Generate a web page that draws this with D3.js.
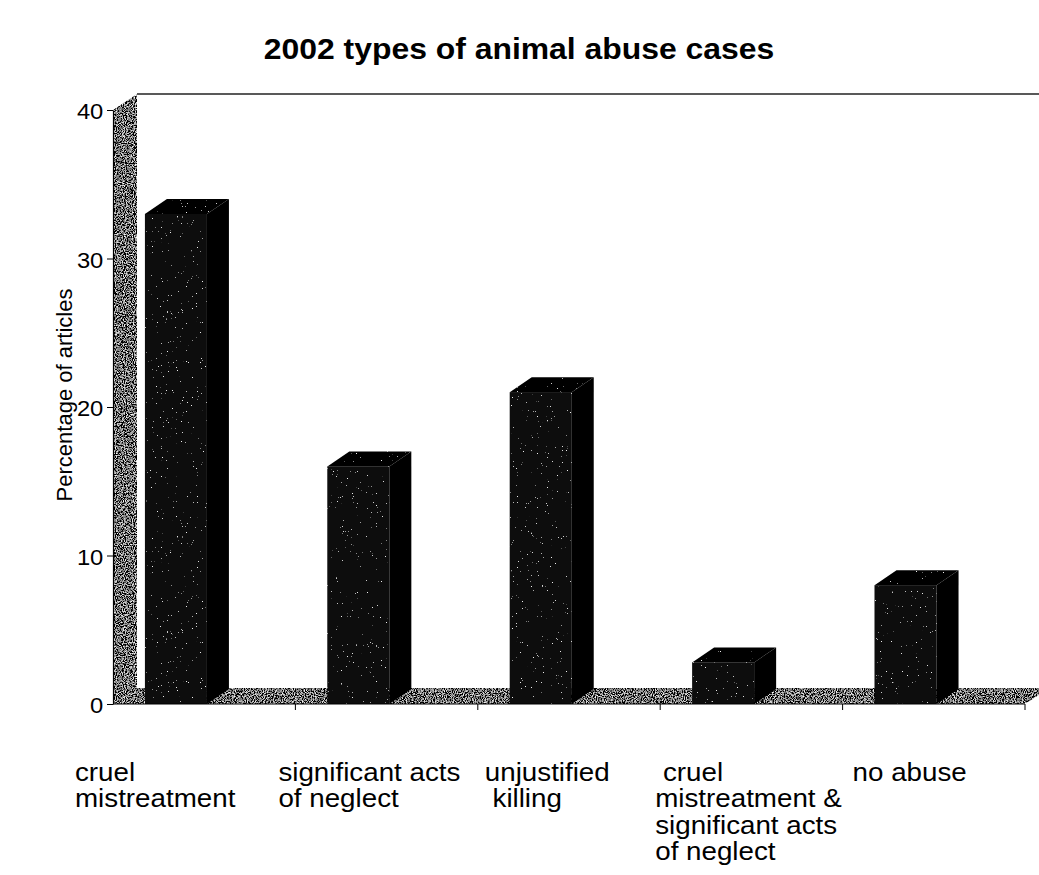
<!DOCTYPE html>
<html>
<head>
<meta charset="utf-8">
<script src="https://cdn.jsdelivr.net/npm/d3@7"></script>
<style>
  body { margin: 0; background: #fff; }
  text { font-family: Arial, "Liberation Sans", sans-serif; fill: #000; }
</style>
</head>
<body>
<div id="chart"></div>
<script>
/* Data */
var categories = ["cruel mistreatment", "significant acts of neglect", "unjustified killing",
                  "cruel mistreatment & significant acts of neglect", "no abuse"];
var labelLines = [["cruel", "mistreatment"], ["significant acts", "of neglect"], ["unjustified", " killing"],
                  [" cruel", "mistreatment &", "significant acts", "of neglect"], ["no abuse"]];
var values = [33, 16, 21, 2.8, 8];
var yTicks = [0, 10, 20, 30, 40];
var title = "2002 types of animal abuse cases";
var yTitle = "Percentage of articles";

/* Layout */
var width = 1039, height = 875;
var plot = {left: 113, right: 1025, top: 110, bottom: 704};
var wall = {dx: 24, dy: -16}, bar = {dx: 22, dy: -15};
var labelShift = [-38, -17, 7, -5, 10];   // label left edge vs band start
var sx = 1.08;                             // the scan is a bit wide

var svg = d3.select("#chart").append("svg").attr("width", width).attr("height", height);

/* texture filters */
var defs = svg.append("defs");
var grain = defs.append("filter").attr("id", "grain")
    .attr("filterUnits", "userSpaceOnUse").attr("x", 0).attr("y", 0)
    .attr("width", width).attr("height", height);
grain.append("feTurbulence").attr("type", "fractalNoise").attr("baseFrequency", 0.9)
    .attr("numOctaves", 2).attr("seed", 3).attr("result", "n");
grain.append("feColorMatrix").attr("in", "n").attr("type", "matrix")
    .attr("values", "2.6 0 0 0 -1.12  2.6 0 0 0 -1.12  2.6 0 0 0 -1.12  0 0 0 0 1").attr("result", "g");
grain.append("feComposite").attr("in", "g").attr("in2", "SourceGraphic").attr("operator", "in");

var speck = defs.append("filter").attr("id", "speck")
    .attr("filterUnits", "userSpaceOnUse").attr("x", 0).attr("y", 0)
    .attr("width", width).attr("height", height);
speck.append("feTurbulence").attr("type", "fractalNoise").attr("baseFrequency", 0.8)
    .attr("numOctaves", 2).attr("seed", 7).attr("result", "n");
speck.append("feColorMatrix").attr("in", "n").attr("type", "matrix")
    .attr("values", "0 0 0 0 0.85  0 0 0 0 0.85  0 0 0 0 0.85  14 0 0 0 -10.4").attr("result", "dots");
speck.append("feComposite").attr("in", "dots").attr("in2", "SourceGraphic").attr("operator", "in").attr("result", "d2");
var merge = speck.append("feMerge");
merge.append("feMergeNode").attr("in", "SourceGraphic");
merge.append("feMergeNode").attr("in", "d2");

var x = d3.scaleBand().domain(categories).range([plot.left, plot.right]);
var y = d3.scaleLinear().domain([0, 40]).range([plot.bottom, plot.top]);
var bw = x.bandwidth();

function pts(a) { return a.map(function(p) { return p.join(","); }).join(" "); }

/* side wall */
svg.append("polygon")
    .attr("points", pts([[plot.left, y(40)], [plot.left + wall.dx, y(40) + wall.dy],
                         [plot.left + wall.dx, y(0) + wall.dy], [plot.left, y(0)]]))
    .attr("fill", "#000").attr("filter", "url(#grain)");

/* back wall top edge */
svg.append("line")
    .attr("x1", plot.left + wall.dx).attr("x2", width)
    .attr("y1", y(40) + wall.dy).attr("y2", y(40) + wall.dy)
    .attr("stroke", "#222").attr("stroke-width", 1.3);

/* floor */
svg.append("polygon")
    .attr("points", pts([[plot.left, y(0)], [plot.left + wall.dx, y(0) + wall.dy],
                         [plot.right + wall.dx, y(0) + wall.dy], [plot.right, y(0)]]))
    .attr("fill", "#000").attr("filter", "url(#grain)");

/* bars */
var bars = svg.append("g").selectAll("g")
    .data(values)
  .enter().append("g");

bars.each(function(v, i) {
    var g = d3.select(this);
    var x0 = x(categories[i]) + bw * 0.175, w = bw * 0.34;
    var yt = y(v), yb = y(0);
    g.append("polygon")
        .attr("points", pts([[x0 + w, yt], [x0 + w + bar.dx, yt + bar.dy], [x0 + w + bar.dx, yb + bar.dy], [x0 + w, yb]]))
        .attr("fill", "#000");
    g.append("polygon")
        .attr("points", pts([[x0, yt], [x0 + bar.dx, yt + bar.dy], [x0 + w + bar.dx, yt + bar.dy], [x0 + w, yt]]))
        .attr("fill", "#050505").attr("filter", "url(#speck)");
    g.append("rect")
        .attr("x", x0).attr("y", yt).attr("width", w).attr("height", yb - yt)
        .attr("fill", "#080808").attr("filter", "url(#speck)");
});

/* y axis */
var yAxis = svg.append("g")
    .attr("transform", "translate(" + plot.left + ",0)")
    .call(d3.axisLeft(y).tickValues(yTicks).tickSize(6).tickSizeOuter(0).tickPadding(3));
yAxis.select(".domain").attr("stroke", "#000").attr("stroke-width", 1.2);
yAxis.selectAll(".tick line").attr("stroke", "#000");
yAxis.selectAll(".tick text")
    .attr("font-size", 22).attr("font-family", "Arial, 'Liberation Sans', sans-serif")
    .attr("x", -9).attr("dy", "0.4em")
    .attr("transform", "scale(" + sx + ",1)");

/* x axis */
svg.append("line")
    .attr("x1", plot.left).attr("x2", plot.right).attr("y1", y(0)).attr("y2", y(0))
    .attr("stroke", "#000").attr("stroke-width", 1.2);
svg.append("g").selectAll("line")
    .data(categories)
  .enter().append("line")
    .attr("x1", function(d) { return x(d) + bw; })
    .attr("x2", function(d) { return x(d) + bw; })
    .attr("y1", y(0)).attr("y2", y(0) + 6)
    .attr("stroke", "#000");

/* category labels */
var labels = svg.append("g").selectAll("text")
    .data(labelLines)
  .enter().append("text")
    .attr("font-size", 25)
    .style("white-space", "pre")
    .attr("transform", function(d, i) {
        return "translate(" + (x(categories[i]) + labelShift[i]) + ",781) scale(" + (sx + 0.03) + ",1)";
    });
labels.selectAll("tspan")
    .data(function(d) { return d; })
  .enter().append("tspan")
    .attr("x", 0)
    .attr("y", function(d, j) { return j * 26.5; })
    .text(function(d) { return d; });

/* titles */
svg.append("text")
    .attr("transform", "translate(519,59) scale(1.1,1)")
    .attr("text-anchor", "middle")
    .attr("font-size", 29)
    .attr("font-weight", "bold")
    .text(title);

svg.append("text")
    .attr("transform", "translate(72,395) rotate(-90)")
    .attr("text-anchor", "middle")
    .attr("font-size", 22)
    .text(yTitle);
</script>
</body>
</html>
